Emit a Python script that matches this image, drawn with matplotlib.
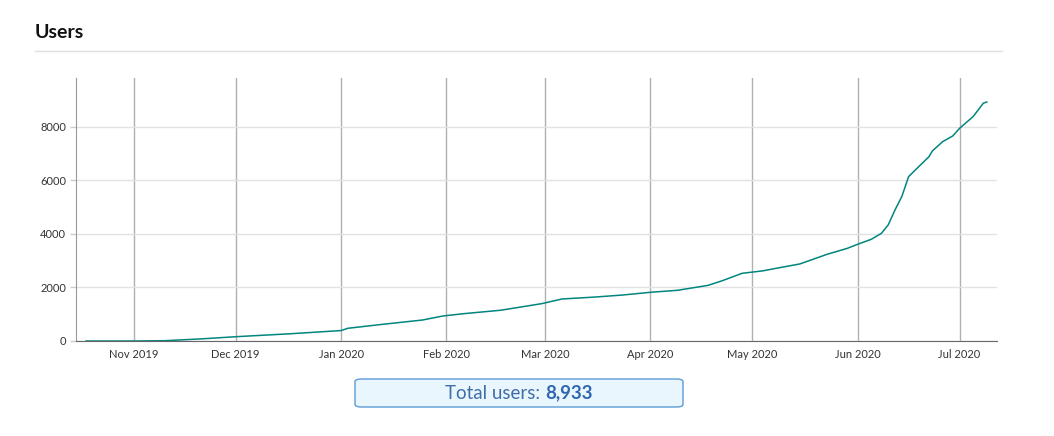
import datetime as dt
import matplotlib.pyplot as plt
import matplotlib.dates as mdates
from matplotlib.patches import FancyBboxPatch

plt.rcParams['font.family'] = ['Lato', 'DejaVu Sans']

# cumulative users
dates = ['2019-10-18', '2019-11-01', '2019-11-10', '2019-11-21', '2019-12-01',
         '2019-12-17', '2020-01-01', '2020-01-03', '2020-01-13', '2020-01-25',
         '2020-01-31', '2020-02-06', '2020-02-17', '2020-02-29', '2020-03-06',
         '2020-03-16', '2020-03-24', '2020-04-01', '2020-04-09', '2020-04-18',
         '2020-04-22', '2020-04-28', '2020-05-04', '2020-05-09', '2020-05-15',
         '2020-05-23', '2020-05-29', '2020-06-01', '2020-06-05', '2020-06-08',
         '2020-06-10', '2020-06-12', '2020-06-14', '2020-06-16', '2020-06-19',
         '2020-06-22', '2020-06-23', '2020-06-26', '2020-06-29', '2020-07-01',
         '2020-07-05', '2020-07-08', '2020-07-09']
users = [0, 0, 10, 80, 160,
         270, 390, 475, 620, 785,
         935, 1020, 1150, 1395, 1570,
         1645, 1720, 1820, 1895, 2080,
         2245, 2530, 2620, 2740, 2880,
         3240, 3465, 3615, 3800, 4025,
         4340, 4900, 5400, 6145, 6520,
         6890, 7105, 7450, 7665, 7950,
         8390, 8890, 8933]
y_ticks = [0, 2000, 4000, 6000, 8000]
total_label = 'Total users:'
total_value = '8,933'

x = [dt.datetime.strptime(d, '%Y-%m-%d') for d in dates]

fig = plt.figure(figsize=(10.54, 4.36), dpi=100)
ax = fig.add_axes([0.0721, 0.2179, 0.8738, 0.6032])

ax.plot(x, users, color='#00857f', lw=1.1)

ax.set_xlim(dt.datetime(2019, 10, 15), dt.datetime(2020, 7, 12))
ax.set_ylim(0, 9830)
ax.set_yticks(y_ticks)
ax.xaxis.set_major_locator(mdates.MonthLocator())
ax.xaxis.set_major_formatter(mdates.DateFormatter('%b %Y'))

ax.grid(axis='x', color='#b0b0b0', lw=1)
ax.grid(axis='y', color='#e2e2e2', lw=1)
ax.set_axisbelow(True)
for s in ['top', 'right']:
    ax.spines[s].set_visible(False)
ax.spines['left'].set_color('#999999')
ax.spines['bottom'].set_color('#666666')
ax.tick_params(axis='both', labelsize=8, colors='#333333', width=1)
ax.tick_params(axis='x', length=0, pad=6)
ax.tick_params(axis='y', color='#cccccc', length=4, pad=3)

# header
fig.text(35 / 1054, 1 - 33 / 436, 'Users', fontsize=14, fontweight='bold',
         color='#111111', va='center', ha='left')
fig.add_artist(plt.Line2D([35 / 1054, 1002 / 1054], [1 - 51 / 436, 1 - 51 / 436],
                          color='#e0e0e0', lw=1))

# total box
box = FancyBboxPatch((355 / 1054, 1 - 407 / 436), 328 / 1054, 28 / 436,
                     boxstyle='round,pad=0,rounding_size=0.006',
                     transform=fig.transFigure, facecolor='#eaf6fd',
                     edgecolor='#5b9bd5', lw=1)
fig.patches.append(box)
fig.text(540 / 1054, 1 - 393 / 436, total_label, fontsize=13.5, color='#3f6ea8',
         ha='right', va='center')
fig.text(545 / 1054, 1 - 393 / 436, total_value, fontsize=13.5, color='#2f66b0',
         fontweight='bold', ha='left', va='center')

fig.savefig('out.png', dpi=100)
